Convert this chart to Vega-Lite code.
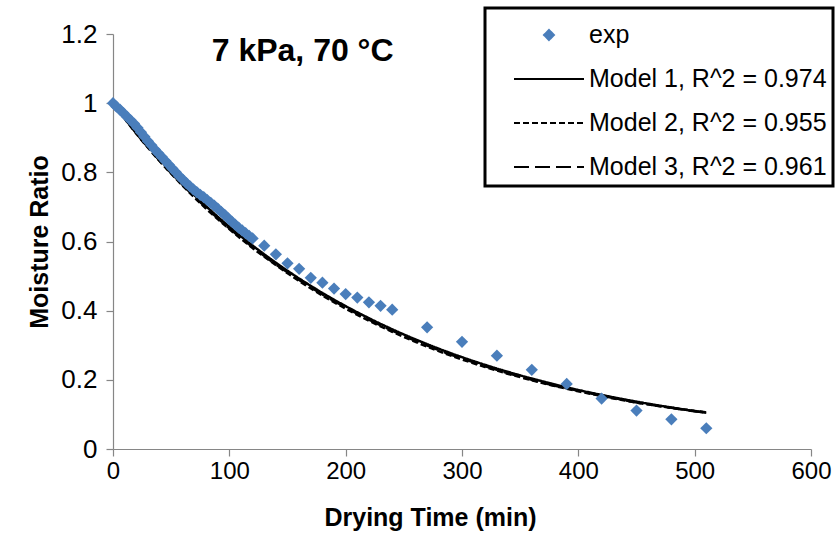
{
  "$schema": "https://vega.github.io/schema/vega-lite/v6.json",
  "width": 698,
  "height": 415,
  "autosize": {"type": "none"},
  "padding": {"left": 113, "top": 34, "right": 24, "bottom": 88},
  "background": "white",
  "config": {"view": {"stroke": null}, "font": "Liberation Sans"},
  "datasets": {
    "exp": [
      {"time": 0, "mr": 1.0, "series": "exp"},
      {"time": 3, "mr": 0.99, "series": "exp"},
      {"time": 6, "mr": 0.981, "series": "exp"},
      {"time": 9, "mr": 0.971, "series": "exp"},
      {"time": 12, "mr": 0.961, "series": "exp"},
      {"time": 15, "mr": 0.951, "series": "exp"},
      {"time": 18, "mr": 0.941, "series": "exp"},
      {"time": 21, "mr": 0.929, "series": "exp"},
      {"time": 24, "mr": 0.916, "series": "exp"},
      {"time": 27, "mr": 0.903, "series": "exp"},
      {"time": 30, "mr": 0.89, "series": "exp"},
      {"time": 33, "mr": 0.878, "series": "exp"},
      {"time": 36, "mr": 0.866, "series": "exp"},
      {"time": 39, "mr": 0.855, "series": "exp"},
      {"time": 42, "mr": 0.844, "series": "exp"},
      {"time": 45, "mr": 0.833, "series": "exp"},
      {"time": 48, "mr": 0.822, "series": "exp"},
      {"time": 51, "mr": 0.811, "series": "exp"},
      {"time": 54, "mr": 0.8, "series": "exp"},
      {"time": 57, "mr": 0.789, "series": "exp"},
      {"time": 60, "mr": 0.779, "series": "exp"},
      {"time": 63, "mr": 0.769, "series": "exp"},
      {"time": 66, "mr": 0.76, "series": "exp"},
      {"time": 69, "mr": 0.751, "series": "exp"},
      {"time": 72, "mr": 0.743, "series": "exp"},
      {"time": 75, "mr": 0.735, "series": "exp"},
      {"time": 78, "mr": 0.728, "series": "exp"},
      {"time": 81, "mr": 0.72, "series": "exp"},
      {"time": 84, "mr": 0.712, "series": "exp"},
      {"time": 87, "mr": 0.704, "series": "exp"},
      {"time": 90, "mr": 0.695, "series": "exp"},
      {"time": 93, "mr": 0.686, "series": "exp"},
      {"time": 96, "mr": 0.677, "series": "exp"},
      {"time": 99, "mr": 0.667, "series": "exp"},
      {"time": 102, "mr": 0.658, "series": "exp"},
      {"time": 105, "mr": 0.649, "series": "exp"},
      {"time": 108, "mr": 0.64, "series": "exp"},
      {"time": 111, "mr": 0.632, "series": "exp"},
      {"time": 114, "mr": 0.624, "series": "exp"},
      {"time": 117, "mr": 0.616, "series": "exp"},
      {"time": 120, "mr": 0.609, "series": "exp"},
      {"time": 130, "mr": 0.588, "series": "exp"},
      {"time": 140, "mr": 0.563, "series": "exp"},
      {"time": 150, "mr": 0.537, "series": "exp"},
      {"time": 160, "mr": 0.521, "series": "exp"},
      {"time": 170, "mr": 0.495, "series": "exp"},
      {"time": 180, "mr": 0.481, "series": "exp"},
      {"time": 190, "mr": 0.464, "series": "exp"},
      {"time": 200, "mr": 0.448, "series": "exp"},
      {"time": 210, "mr": 0.438, "series": "exp"},
      {"time": 220, "mr": 0.424, "series": "exp"},
      {"time": 230, "mr": 0.414, "series": "exp"},
      {"time": 240, "mr": 0.403, "series": "exp"},
      {"time": 270, "mr": 0.352, "series": "exp"},
      {"time": 300, "mr": 0.31, "series": "exp"},
      {"time": 330, "mr": 0.27, "series": "exp"},
      {"time": 360, "mr": 0.229, "series": "exp"},
      {"time": 390, "mr": 0.188, "series": "exp"},
      {"time": 420, "mr": 0.146, "series": "exp"},
      {"time": 450, "mr": 0.111, "series": "exp"},
      {"time": 480, "mr": 0.086, "series": "exp"},
      {"time": 510, "mr": 0.06, "series": "exp"}
    ],
    "models": [
      {"time": 0, "mr": 1.0, "series": "Model 1, R^2 = 0.974"},
      {"time": 20, "mr": 0.9154, "series": "Model 1, R^2 = 0.974"},
      {"time": 40, "mr": 0.838, "series": "Model 1, R^2 = 0.974"},
      {"time": 60, "mr": 0.7671, "series": "Model 1, R^2 = 0.974"},
      {"time": 80, "mr": 0.7022, "series": "Model 1, R^2 = 0.974"},
      {"time": 100, "mr": 0.6427, "series": "Model 1, R^2 = 0.974"},
      {"time": 120, "mr": 0.5884, "series": "Model 1, R^2 = 0.974"},
      {"time": 140, "mr": 0.5386, "series": "Model 1, R^2 = 0.974"},
      {"time": 160, "mr": 0.493, "series": "Model 1, R^2 = 0.974"},
      {"time": 180, "mr": 0.4513, "series": "Model 1, R^2 = 0.974"},
      {"time": 200, "mr": 0.4131, "series": "Model 1, R^2 = 0.974"},
      {"time": 220, "mr": 0.3782, "series": "Model 1, R^2 = 0.974"},
      {"time": 240, "mr": 0.3462, "series": "Model 1, R^2 = 0.974"},
      {"time": 260, "mr": 0.3169, "series": "Model 1, R^2 = 0.974"},
      {"time": 280, "mr": 0.2901, "series": "Model 1, R^2 = 0.974"},
      {"time": 300, "mr": 0.2655, "series": "Model 1, R^2 = 0.974"},
      {"time": 320, "mr": 0.2431, "series": "Model 1, R^2 = 0.974"},
      {"time": 340, "mr": 0.2225, "series": "Model 1, R^2 = 0.974"},
      {"time": 360, "mr": 0.2037, "series": "Model 1, R^2 = 0.974"},
      {"time": 380, "mr": 0.1865, "series": "Model 1, R^2 = 0.974"},
      {"time": 400, "mr": 0.1707, "series": "Model 1, R^2 = 0.974"},
      {"time": 420, "mr": 0.1563, "series": "Model 1, R^2 = 0.974"},
      {"time": 440, "mr": 0.1431, "series": "Model 1, R^2 = 0.974"},
      {"time": 460, "mr": 0.131, "series": "Model 1, R^2 = 0.974"},
      {"time": 480, "mr": 0.1199, "series": "Model 1, R^2 = 0.974"},
      {"time": 500, "mr": 0.1097, "series": "Model 1, R^2 = 0.974"},
      {"time": 510, "mr": 0.105, "series": "Model 1, R^2 = 0.974"},
      {"time": 0, "mr": 1.0, "series": "Model 2, R^2 = 0.955"},
      {"time": 20, "mr": 0.912, "series": "Model 2, R^2 = 0.955"},
      {"time": 40, "mr": 0.833, "series": "Model 2, R^2 = 0.955"},
      {"time": 60, "mr": 0.761, "series": "Model 2, R^2 = 0.955"},
      {"time": 80, "mr": 0.695, "series": "Model 2, R^2 = 0.955"},
      {"time": 100, "mr": 0.636, "series": "Model 2, R^2 = 0.955"},
      {"time": 120, "mr": 0.581, "series": "Model 2, R^2 = 0.955"},
      {"time": 140, "mr": 0.532, "series": "Model 2, R^2 = 0.955"},
      {"time": 160, "mr": 0.486, "series": "Model 2, R^2 = 0.955"},
      {"time": 180, "mr": 0.444, "series": "Model 2, R^2 = 0.955"},
      {"time": 200, "mr": 0.406, "series": "Model 2, R^2 = 0.955"},
      {"time": 220, "mr": 0.371, "series": "Model 2, R^2 = 0.955"},
      {"time": 240, "mr": 0.339, "series": "Model 2, R^2 = 0.955"},
      {"time": 260, "mr": 0.31, "series": "Model 2, R^2 = 0.955"},
      {"time": 280, "mr": 0.283, "series": "Model 2, R^2 = 0.955"},
      {"time": 300, "mr": 0.259, "series": "Model 2, R^2 = 0.955"},
      {"time": 320, "mr": 0.237, "series": "Model 2, R^2 = 0.955"},
      {"time": 340, "mr": 0.217, "series": "Model 2, R^2 = 0.955"},
      {"time": 360, "mr": 0.199, "series": "Model 2, R^2 = 0.955"},
      {"time": 380, "mr": 0.182, "series": "Model 2, R^2 = 0.955"},
      {"time": 400, "mr": 0.167, "series": "Model 2, R^2 = 0.955"},
      {"time": 420, "mr": 0.153, "series": "Model 2, R^2 = 0.955"},
      {"time": 440, "mr": 0.14, "series": "Model 2, R^2 = 0.955"},
      {"time": 460, "mr": 0.129, "series": "Model 2, R^2 = 0.955"},
      {"time": 480, "mr": 0.119, "series": "Model 2, R^2 = 0.955"},
      {"time": 500, "mr": 0.11, "series": "Model 2, R^2 = 0.955"},
      {"time": 510, "mr": 0.106, "series": "Model 2, R^2 = 0.955"},
      {"time": 0, "mr": 1.0, "series": "Model 3, R^2 = 0.961"},
      {"time": 20, "mr": 0.913, "series": "Model 3, R^2 = 0.961"},
      {"time": 40, "mr": 0.834, "series": "Model 3, R^2 = 0.961"},
      {"time": 60, "mr": 0.763, "series": "Model 3, R^2 = 0.961"},
      {"time": 80, "mr": 0.698, "series": "Model 3, R^2 = 0.961"},
      {"time": 100, "mr": 0.638, "series": "Model 3, R^2 = 0.961"},
      {"time": 120, "mr": 0.584, "series": "Model 3, R^2 = 0.961"},
      {"time": 140, "mr": 0.534, "series": "Model 3, R^2 = 0.961"},
      {"time": 160, "mr": 0.489, "series": "Model 3, R^2 = 0.961"},
      {"time": 180, "mr": 0.447, "series": "Model 3, R^2 = 0.961"},
      {"time": 200, "mr": 0.409, "series": "Model 3, R^2 = 0.961"},
      {"time": 220, "mr": 0.374, "series": "Model 3, R^2 = 0.961"},
      {"time": 240, "mr": 0.342, "series": "Model 3, R^2 = 0.961"},
      {"time": 260, "mr": 0.313, "series": "Model 3, R^2 = 0.961"},
      {"time": 280, "mr": 0.286, "series": "Model 3, R^2 = 0.961"},
      {"time": 300, "mr": 0.262, "series": "Model 3, R^2 = 0.961"},
      {"time": 320, "mr": 0.239, "series": "Model 3, R^2 = 0.961"},
      {"time": 340, "mr": 0.219, "series": "Model 3, R^2 = 0.961"},
      {"time": 360, "mr": 0.2, "series": "Model 3, R^2 = 0.961"},
      {"time": 380, "mr": 0.183, "series": "Model 3, R^2 = 0.961"},
      {"time": 400, "mr": 0.168, "series": "Model 3, R^2 = 0.961"},
      {"time": 420, "mr": 0.154, "series": "Model 3, R^2 = 0.961"},
      {"time": 440, "mr": 0.141, "series": "Model 3, R^2 = 0.961"},
      {"time": 460, "mr": 0.129, "series": "Model 3, R^2 = 0.961"},
      {"time": 480, "mr": 0.119, "series": "Model 3, R^2 = 0.961"},
      {"time": 500, "mr": 0.109, "series": "Model 3, R^2 = 0.961"},
      {"time": 510, "mr": 0.105, "series": "Model 3, R^2 = 0.961"}
    ]
  },
  "layer": [
    {
      "data": {"name": "models"},
      "mark": {"type": "line", "strokeWidth": 2.5, "interpolate": "monotone"},
      "encoding": {
        "x": {
          "field": "time", "type": "quantitative",
          "scale": {"domain": [0, 600], "nice": false, "zero": false},
          "axis": {
            "values": [0, 100, 200, 300, 400, 500, 600],
            "grid": false, "domainColor": "#868686", "domainWidth": 1.2,
            "tickColor": "#868686", "tickSize": 7, "tickWidth": 1.2,
            "labelFont": "Liberation Sans", "labelFontSize": 24, "labelColor": "black",
            "labelPadding": 3, "labelFlush": false, "labelOverlap": false,
            "title": "Drying Time (min)", "titleFont": "Liberation Sans", "titleFontSize": 25,
            "titleFontWeight": "bold", "titleColor": "black",
            "titleX": 317, "titleY": 76, "titleBaseline": "alphabetic", "titleAlign": "center"
          }
        },
        "y": {
          "field": "mr", "type": "quantitative",
          "scale": {"domain": [0, 1.2], "nice": false},
          "axis": {
            "values": [0, 0.2, 0.4, 0.6, 0.8, 1, 1.2], "format": "~g",
            "grid": false, "domainColor": "#868686", "domainWidth": 1.2,
            "tickColor": "#868686", "tickSize": 7, "tickWidth": 1.2,
            "labelFont": "Liberation Sans", "labelFontSize": 26, "labelColor": "black",
            "labelPadding": 9, "labelFlush": false, "labelOverlap": false,
            "title": "Moisture Ratio", "titleFont": "Liberation Sans", "titleFontSize": 25,
            "titleFontWeight": "bold", "titleColor": "black", "titlePadding": 8
          }
        },
        "color": {
          "field": "series", "type": "nominal",
          "scale": {
            "domain": ["exp", "Model 1, R^2 = 0.974", "Model 2, R^2 = 0.955", "Model 3, R^2 = 0.961"],
            "range": ["#4A7EBB", "black", "black", "black"]
          },
          "legend": {
            "orient": "none", "legendX": 372, "legendY": -26,
            "title": null, "labelFont": "Liberation Sans", "labelFontSize": 25,
            "labelColor": "black", "labelLimit": 400,
            "symbolSize": 400, "symbolOffset": 37, "labelOffset": 19,
            "rowPadding": 10, "padding": 6,
            "strokeColor": "black", "fillColor": "white",
            "encode": {
              "legend": {"update": {"strokeWidth": {"value": 3}}},
              "symbols": {
                "update": {
                  "shape": {"signal": "datum.value === 'exp' ? 'diamond' : 'M-1.75,0H1.75'"},
                  "size": {"signal": "datum.value === 'exp' ? 100 : 1600"},
                  "fill": {"signal": "datum.value === 'exp' ? '#4A7EBB' : 'transparent'"},
                  "stroke": {"signal": "datum.value === 'exp' ? 'transparent' : 'black'"},
                  "strokeWidth": {"value": 2},
                  "strokeDash": {"signal": "datum.value === 'Model 2, R^2 = 0.955' ? [6, 3] : datum.value === 'Model 3, R^2 = 0.961' ? [15, 6] : [1, 0]"},
                  "opacity": {"value": 1}
                }
              }
            }
          }
        },
        "strokeDash": {
          "field": "series", "type": "nominal",
          "scale": {
            "domain": ["Model 1, R^2 = 0.974", "Model 2, R^2 = 0.955", "Model 3, R^2 = 0.961"],
            "range": [[1, 0], [6, 3], [15, 6]]
          },
          "legend": null
        }
      }
    },
    {
      "data": {"name": "exp"},
      "mark": {"type": "point", "shape": "diamond", "filled": true, "opacity": 1, "size": 150},
      "encoding": {
        "x": {"field": "time", "type": "quantitative"},
        "y": {"field": "mr", "type": "quantitative"},
        "color": {"field": "series", "type": "nominal"}
      }
    },
    {
      "data": {"values": [{"label": "7 kPa, 70 °C"}]},
      "mark": {"type": "text", "font": "Liberation Sans", "fontSize": 32, "fontWeight": "bold", "color": "black", "align": "center", "baseline": "middle"},
      "encoding": {
        "x": {"datum": 163},
        "y": {"datum": 1.15},
        "text": {"field": "label", "type": "nominal"}
      }
    }
  ]
}
